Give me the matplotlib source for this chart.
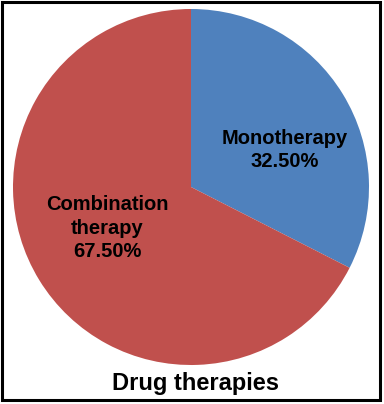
import matplotlib
matplotlib.use("Agg")
import matplotlib.pyplot as plt
from matplotlib.patches import Rectangle

categories = ["Monotherapy", "Combination\ntherapy"]
values = [32.5, 67.5]
colors = ["#4F81BD", "#C0504D"]
title = "Drug therapies"

W, H = 384, 404
fig = plt.figure(figsize=(W / 100, H / 100), dpi=100)
plt.rcParams['font.family'] = ['Liberation Sans', 'DejaVu Sans']

cx, cy, r = 191, 187, 178
ax = fig.add_axes([(cx - r) / W, (H - cy - r) / H, 2 * r / W, 2 * r / H])
ax.pie(values, colors=colors, startangle=90, counterclock=False,
       wedgeprops=dict(linewidth=0))
ax.set_xlim(-1, 1)
ax.set_ylim(-1, 1)
ax.set_aspect('equal')
ax.axis('off')

label_pos = [((285 - cx) / r, (cy - 150) / r), ((107 - cx) / r, (cy - 228) / r)]
for cat, v, (x, y) in zip(categories, values, label_pos):
    ax.text(x, y, f"{cat}\n{v:.2f}%", ha='center', va='center', fontsize=14.5,
            fontweight='bold', color='black', linespacing=1.27)

fig.text(195.5 / W, 1 - 390 / H, title, ha='center', va='baseline', fontsize=17,
         fontweight='bold')

fig.patches.append(Rectangle((1.5 / W, 1 - 399.5 / H), 378 / W, 398 / H,
                             transform=fig.transFigure, fill=False,
                             edgecolor='black', linewidth=2.2))

fig.savefig("out.png", dpi=100)
